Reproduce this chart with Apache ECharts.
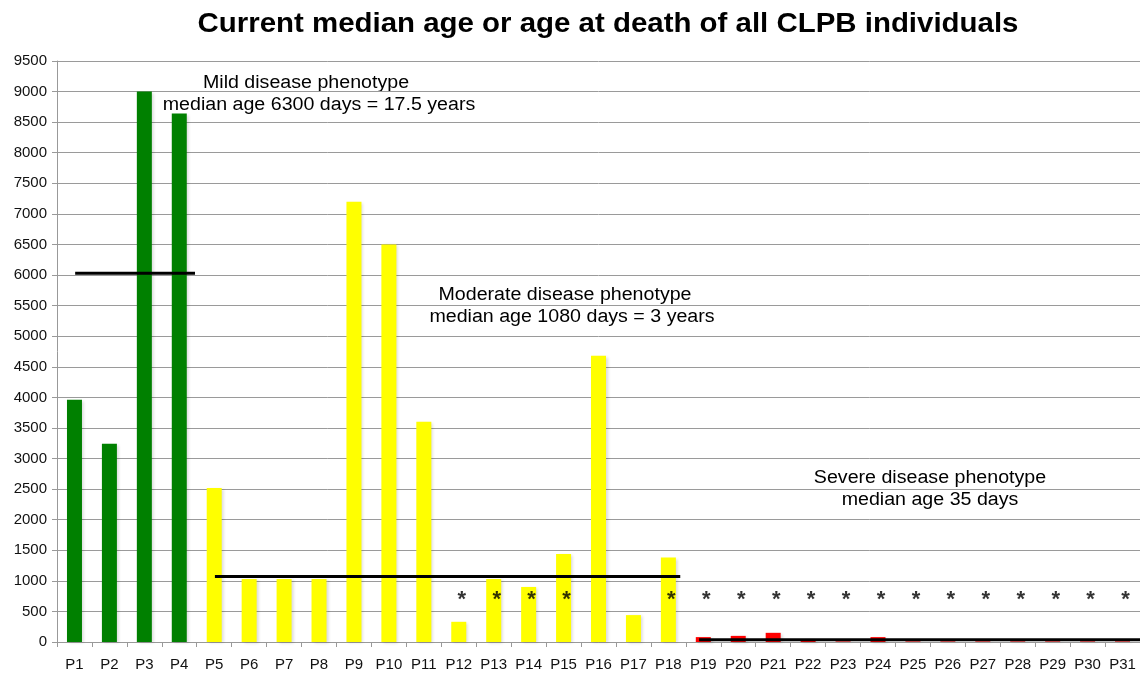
<!DOCTYPE html>
<html>
<head>
<meta charset="utf-8">
<script src="https://cdn.jsdelivr.net/npm/echarts@6/dist/echarts.min.js"></script>
<style>
  html, body { margin: 0; padding: 0; background: #fff; }
  #chart { width: 1140px; height: 676px; }
</style>
</head>
<body>
<div id="chart"></div>
<script>
// patients P1..P31
let categories = [];
for (let i = 1; i <= 31; i++) categories.push('P' + i);

// current median age / age at death, in days
let ageDays = [3960, 3240, 9000, 8640, 2520, 1030, 1030, 1030, 7200, 6500,
  3600, 330, 1030, 900, 1440, 4680, 440, 1380, 80, 100,
  150, 40, 10, 80, 10, 10, 10, 10, 10, 10, 10];

// phenotype group of each patient
let phenotype = ['mild', 'mild', 'mild', 'mild',
  'moderate', 'moderate', 'moderate', 'moderate', 'moderate', 'moderate', 'moderate',
  'moderate', 'moderate', 'moderate', 'moderate', 'moderate', 'moderate', 'moderate',
  'severe', 'severe', 'severe', 'severe', 'severe', 'severe', 'severe',
  'severe', 'severe', 'severe', 'severe', 'severe', 'severe'];

// patients marked with an asterisk, and the height the mark sits at
let starred = ['P12', 'P13', 'P14', 'P15', 'P18', 'P19', 'P20', 'P21', 'P22', 'P23',
  'P24', 'P25', 'P26', 'P27', 'P28', 'P29', 'P30', 'P31'];
let starLevel = 690;

// median lines: [x on 0..31 category scale, days]
let mildMedian = [[0.52, 6030], [3.95, 6030]];
let moderateMedian = [[4.52, 1070], [17.84, 1070]];
let severeMedian = [[18.38, 35], [31, 35]];

let groupColor = { mild: '#008000', moderate: '#ffff00', severe: '#ff0000' };
let font = '"Liberation Sans", Arial, Helvetica, sans-serif';

let chart = echarts.init(document.getElementById('chart'));

let barData = ageDays.map(function (v, i) {
  return { value: v, itemStyle: { color: groupColor[phenotype[i]] } };
});

let starData = starred.map(function (p) { return [p, starLevel]; });

let lineSeries = function (data) {
  return {
    type: 'line',
    xAxisIndex: 1,
    symbol: 'none',
    silent: true,
    z: 5,
    lineStyle: { color: '#000', width: 3 },
    data: data
  };
};

// the source picture is a little stretched sideways
let note = function (x, y, text, size, weight) {
  return {
    type: 'text', x: x, y: y, scaleX: 1.09,
    style: {
      text: text,
      font: (weight || 'normal') + ' ' + size + 'px ' + font,
      fill: '#000',
      textAlign: 'center',
      textVerticalAlign: 'middle'
    }
  };
};

chart.setOption({
  backgroundColor: '#fff',
  animation: false,
  grid: { left: 57, top: 61, width: 1085, height: 581 },
  xAxis: [{
    type: 'category',
    data: categories,
    axisLine: { lineStyle: { color: '#999', width: 1 } },
    axisTick: { show: true, interval: 0, length: 5, lineStyle: { color: '#999' } },
    axisLabel: { interval: 0, margin: 15, fontFamily: font, fontSize: 15, color: '#111' }
  }, {
    type: 'value',
    min: 0,
    max: 31,
    show: false
  }],
  yAxis: {
    type: 'value',
    min: 0,
    max: 9500,
    interval: 500,
    axisLine: { show: true, lineStyle: { color: '#999', width: 1 } },
    axisTick: { show: true, length: 5, lineStyle: { color: '#999' } },
    axisLabel: {
      margin: 10, fontFamily: font, fontSize: 15, color: '#111',
      formatter: function (v) { return String(v); }
    },
    splitLine: { lineStyle: { color: '#9a9a9a', width: 1 } }
  },
  series: [
    {
      type: 'bar',
      barWidth: 15,
      data: barData,
      itemStyle: {
        shadowBlur: 3,
        shadowColor: 'rgba(0,0,0,0.15)',
        shadowOffsetX: 2,
        shadowOffsetY: 1
      },
      z: 2
    },
    lineSeries(mildMedian),
    lineSeries(moderateMedian),
    lineSeries(severeMedian),
    {
      type: 'scatter',
      symbolSize: 1,
      itemStyle: { color: 'rgba(0,0,0,0)' },
      z: 6,
      label: {
        show: true,
        position: 'inside',
        offset: [3, 0],
        formatter: '*',
        fontFamily: font,
        fontSize: 22,
        fontWeight: 'bold',
        color: '#000'
      },
      data: starData
    }
  ],
  graphic: [
    note(608, 25, 'Current median age or age at death of all CLPB individuals', 27, 'bold'),
    note(306, 83, 'Mild disease phenotype', 18),
    note(319, 105, 'median age 6300 days = 17.5 years', 18),
    note(565, 295, 'Moderate disease phenotype', 18),
    note(572, 317, 'median age 1080 days = 3 years', 18),
    note(930, 478, 'Severe disease phenotype', 18),
    note(930, 500, 'median age 35 days', 18)
  ]
});
</script>
</body>
</html>
